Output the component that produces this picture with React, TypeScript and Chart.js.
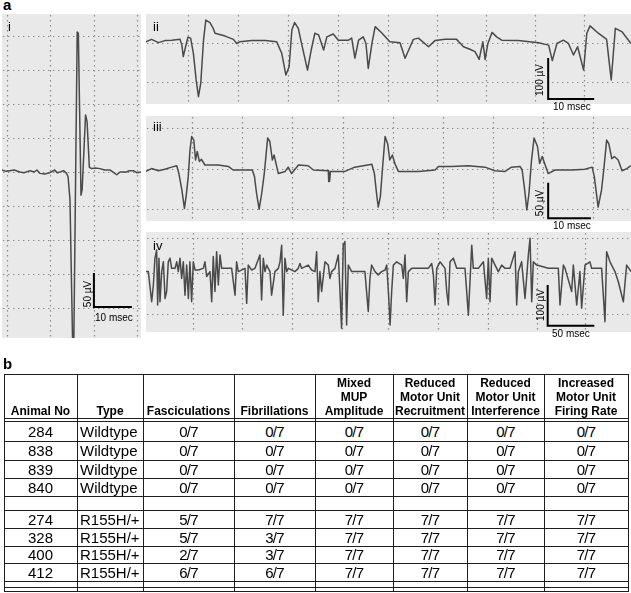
import React, { useEffect, useRef } from "react";
import { Chart, registerables } from "chart.js";

Chart.register(...registerables);

type Pt = [number, number];

const FONT = 'Arial, "Liberation Sans", Helvetica, sans-serif';
const PANEL_BG = "#e9e9e9";
const GRID_COLOR = "#8a8a8a";
const TRACE_COLOR = "#4a4a4a";
const LINE_COLOR = "#1e1e1e";

// ---------- Panel i : time (ms), amplitude (µV) ----------
const traceI: Pt[] = [
  [0, 3], [1.0, 1], [2.1, 2], [3.2, 3], [4.7, 0], [5.8, -1], [7.4, 2], [8.5, 0], [9.2, 3],
  [10.0, -2], [11.2, -3], [12.6, -1], [13.9, 3], [14.5, -1], [15.3, 0], [16.2, 2], [17.0, -2],
  [17.4, -7], [17.9, -41], [18.6, -254], [18.9, -254], [19.8, 206], [20.1, 204], [20.8, -34],
  [21.1, -26], [22.0, 84], [22.4, 74], [23.0, 7], [23.6, 5], [24.5, 6], [25.8, 5], [27.0, 3],
  [28.4, 3], [29.7, -2], [30.2, -4], [31.1, 0], [32.8, 0], [33.5, 2], [34.6, 2], [35.5, -1], [36.6, 0],
];
const rangeI_t: Pt = [0, 36.6];
const rangeI_v: Pt = [-244.1, 232.4];
const gridI_t = [1.3, 12.6, 24.2, 35.5];
const gridI_v = [200, 150, 100, 50, 0, -50, -100, -150, -200];
const barI: Pt[] = [[24.2, -148.5], [24.2, -198.5], [34.2, -198.5]];

// ---------- Panel ii ----------
const traceII: Pt[] = [
  [0, -2], [1.2, 4], [2.7, -4], [4.1, 1], [5.6, 2], [7.4, 4], [7.8, -10], [8.1, -38], [8.6, -14],
  [9.1, 9], [9.7, 7], [10.3, -30], [10.9, -95], [11.4, -136], [11.9, -103], [12.5, 2], [13.0, 51],
  [13.9, 45], [14.6, 31], [15.0, 19], [17.2, 12], [19.0, 4], [19.7, -6], [20.4, -2], [23.0, 1],
  [25.9, 1], [28.4, -2], [29.5, -30], [30.4, -83], [31.1, -63], [31.7, 27], [32.3, 45], [33.1, 31],
  [33.8, -6], [35.1, -71], [35.9, -22], [36.7, 19], [37.5, 15], [38.6, -22], [39.3, 10], [40.7, 17],
  [41.8, 2], [44.0, 2], [44.7, 7], [45.4, -42], [46.2, 2], [47.2, 10], [47.8, -6], [48.3, -67],
  [49.1, -6], [49.8, 35], [51.2, 20], [53.0, -2], [55.2, -4], [56.3, -42], [57.4, -14], [58.1, 4],
  [59.2, 7], [61.4, -14], [62.8, 1], [65.0, 4], [67.5, 4], [69.0, -14], [70.4, -20], [71.5, -26],
  [72.4, -45], [73.2, -2], [73.7, -45], [74.3, -6], [75.2, 21], [76.2, 10], [77.3, 2], [80.9, 1],
  [85.3, -4], [87.5, -10], [88.3, -48], [89.3, -6], [90.7, 2], [91.8, -6], [92.9, -34], [93.8, -14],
  [95.1, -71], [95.8, 19], [96.5, 37], [98.3, 19], [100.1, 4], [101.1, -95], [102.0, 31], [103.4, 23],
  [105.4, -6],
];
const rangeII_t: Pt = [0, 105.4];
const rangeII_v: Pt = [-153.7, 65.9];
const gridII_t = [9.1, 20.0, 30.9, 41.7, 52.6, 63.3, 73.9, 84.6, 95.2];
const gridII_v = [-5, -100];
const barII: Pt[] = [[87.4, -41.5], [87.4, -141.5], [97.4, -141.5]];

// ---------- Panel iii ----------
const traceIII: Pt[] = [
  [0, -2], [1.3, 2], [2.9, -1], [4.4, 1], [6.0, 4], [7.2, 6], [7.7, -5], [8.4, -28], [9.0, -54],
  [9.4, -37], [9.9, -9], [10.3, 28], [10.7, 47], [11.2, 42], [11.6, 14], [12.0, 26], [12.5, 12],
  [13.0, 15], [13.8, 7], [16.9, 7], [19.3, 5], [20.4, 0], [23.2, 0], [24.9, 0], [25.4, -9],
  [25.9, -33], [26.5, -55], [27.1, -33], [27.7, -5], [28.5, 45], [29.0, 40], [29.6, 14], [30.0, 21],
  [31.0, -5], [32.6, -2], [33.3, 4], [34.1, -5], [35.7, 7], [38.0, 6], [39.2, 0], [42.7, -1],
  [42.8, -16], [43.0, -16], [43.2, -2], [46.6, -2], [48.9, 4], [52.9, 8], [53.5, -5], [54.0, -33],
  [54.4, -52], [54.9, -37], [55.3, -5], [56.0, 47], [56.6, 37], [57.1, 14], [57.7, 21], [58.3, 9],
  [59.1, -2], [63.8, -2], [67.7, 0], [68.5, 5], [71.6, 5], [75.5, 6], [79.4, 4], [81.7, -1],
  [84.1, -2], [85.6, 4], [87.6, 5], [88.1, 0], [88.6, -23], [89.2, -56], [89.7, -33], [90.3, 14],
  [90.9, 45], [91.7, 33], [92.2, 9], [92.8, 19], [94.2, -5], [95.8, 0], [99.7, 0], [102.8, 1],
  [104.5, 4], [105.0, -9], [105.9, -52], [106.7, -28], [107.3, 5], [107.9, 42], [108.4, 37],
  [109.1, 16], [109.7, 19], [110.6, 14], [111.5, -1], [112.6, 2], [113.6, 6],
];
const rangeIII_t: Pt = [0, 113.6];
const rangeIII_v: Pt = [-71.6, 75.8];
const gridIII_t = [10.8, 22.5, 34.2, 46.1, 57.8, 69.6, 81.3, 93.0, 104.7];
const gridIII_v = [59, 1, -55];
const barIII: Pt[] = [[94.2, -17.8], [94.2, -67.8], [104.2, -67.8]];

// ---------- Panel iv ----------
const traceIV: Pt[] = [
  [0, 1], [2.5, 1], [6.1, -73], [7.9, -32], [9.6, 34], [11.4, 54], [12.5, -81], [13.9, 34], [15.0, -73],
  [16.8, 1], [18.6, 25], [20.4, -65], [22.1, -48], [23.9, 25], [25.7, 34], [27.5, 9], [31.1, 9],
  [32.9, 25], [34.6, 1], [36.4, 34], [38.2, -16], [40.0, 25], [41.8, -57], [43.6, 17], [45.4, -65],
  [47.1, 25], [48.9, -73], [50.7, 25], [52.5, 5], [56.1, 5], [61.4, 9], [63.2, 25], [65.0, -11],
  [68.6, 1], [70.4, -73], [72.1, 38], [73.9, -48], [75.7, 50], [77.5, -32], [79.3, 42], [81.1, 9],
  [91.8, 9], [95.4, -57], [97.1, 25], [98.9, 1], [106.1, 9], [107.9, -77], [109.6, 17], [113.2, 5],
  [116.8, 9], [122.1, 42], [123.9, -69], [125.7, 34], [127.5, 1], [129.3, 17], [132.9, 1], [134.6, -57],
  [138.2, 1], [141.8, 9], [143.6, 25], [145.4, 66], [147.1, -106], [148.9, 34], [150.7, 1], [152.5, 9],
  [159.6, 1], [163.2, 9], [165.0, 21], [166.8, 9], [173.9, 17], [177.5, 5], [181.1, 1], [182.9, 50],
  [184.6, -73], [186.4, 1], [188.2, -48], [191.8, 25], [195.4, 17], [197.1, -16], [198.9, 1],
  [202.5, 9], [206.1, 42], [207.9, -48], [209.6, -138], [211.4, 66], [213.2, 75], [215.0, -130],
  [216.8, 17], [220.4, 1], [234.6, 1], [238.2, -97], [240.0, -16], [241.8, 17], [245.4, 1],
  [248.9, -7], [252.5, 1], [256.2, 5], [258.0, 17], [259.8, -48], [261.6, -130], [263.3, -48],
  [265.1, 17], [268.7, 25], [274.1, 17], [275.8, -16], [277.6, 42], [279.4, -73], [281.2, 1],
  [284.8, 9], [295.5, 9], [302.6, 9], [306.2, 21], [308.0, -7], [309.8, -81], [311.6, 9], [315.1, 25],
  [320.5, 9], [322.3, -48], [324.1, -81], [325.8, 25], [329.4, 34], [333.0, 9], [341.9, 9],
  [345.5, -106], [349.1, 66], [350.8, 9], [356.2, 9], [361.6, 25], [365.1, -65], [366.9, 34],
  [368.7, -73], [370.5, 34], [374.1, 17], [377.6, 1], [381.2, 17], [384.8, 9], [390.1, 9], [395.5, 50],
  [397.3, -81], [399.1, 1], [402.6, 25], [406.2, -65], [409.8, 42], [411.6, 83], [413.4, -73],
  [415.1, 25], [418.7, 17], [431.2, 9], [441.9, 9], [443.7, -81], [447.3, 17], [449.1, 9],
  [456.2, -48], [458.0, 17], [461.6, -81], [465.1, 1], [466.9, -89], [470.5, 17], [475.8, 25],
  [477.6, 9], [488.3, 9], [491.9, -122], [493.7, 50], [497.3, 25], [502.6, 1], [506.2, -24],
  [511.6, -73], [515.1, 17], [519.8, 1],
];
const rangeIV_t: Pt = [0, 519.8];
const rangeIV_v: Pt = [-147.4, 98.3];
const gridIV_t = [50.4, 102.9, 156.5, 210.1, 259.4, 313.0, 366.6, 419.1, 470.5];
const gridIV_v = [83.5, -2.5, -103];
const barIV: Pt[] = [[430.5, -32], [430.5, -132], [480.5, -132]];

// ---------- Table b ----------
const tableHeaders: string[][] = [
  ["Animal No"], ["Type"], ["Fasciculations"], ["Fibrillations"],
  ["Mixed", "MUP", "Amplitude"], ["Reduced", "Motor Unit", "Recruitment"],
  ["Reduced", "Motor Unit", "Interference"], ["Increased", "Motor Unit", "Firing Rate"],
];
const animalNo = ["284", "838", "839", "840", "", "274", "328", "400", "412"];
const animalType = ["Wildtype", "Wildtype", "Wildtype", "Wildtype", "", "R155H/+", "R155H/+", "R155H/+", "R155H/+"];
const fasciculations = ["0/7", "0/7", "0/7", "0/7", "", "5/7", "5/7", "2/7", "6/7"];
const fibrillations = ["0/7", "0/7", "0/7", "0/7", "", "7/7", "3/7", "3/7", "6/7"];
const mixedMup = ["0/7", "0/7", "0/7", "0/7", "", "7/7", "7/7", "7/7", "7/7"];
const reducedRecruitment = ["0/7", "0/7", "0/7", "0/7", "", "7/7", "7/7", "7/7", "7/7"];
const reducedInterference = ["0/7", "0/7", "0/7", "0/7", "", "7/7", "7/7", "7/7", "7/7"];
const increasedFiring = ["0/7", "0/7", "0/7", "0/7", "", "7/7", "7/7", "7/7", "7/7"];

// layout (pixels)
const colEdges = [4, 77, 143, 234, 315, 393, 467, 544, 628];
const headerTop = 374;
const headerBottom = 418;
const rowEdges = [421, 441, 460, 478, 496, 510, 528, 546, 563, 581];
const tableBottomLines = [587, 591];

interface PanelProps {
  left: number; top: number; width: number; height: number;
  trace: Pt[]; tRange: Pt; vRange: Pt; gridT: number[]; gridV: number[]; bar: Pt[];
}

function ScopePanel(p: PanelProps) {
  const ref = useRef<HTMLCanvasElement>(null);
  useEffect(() => {
    const canvas = ref.current;
    if (!canvas) return;
    const gridPlugin = {
      id: "scopeGrid",
      beforeDatasetsDraw(chart: any) {
        const { ctx, chartArea: a, scales } = chart;
        ctx.save();
        ctx.fillStyle = PANEL_BG;
        ctx.fillRect(a.left, a.top, a.right - a.left, a.bottom - a.top);
        ctx.strokeStyle = GRID_COLOR;
        ctx.lineWidth = 1.2;
        ctx.setLineDash([1.4, 3.6]);
        p.gridT.forEach((t) => {
          const x = Math.round(scales.x.getPixelForValue(t)) + 0.5;
          ctx.beginPath();
          ctx.moveTo(x, a.top + 1);
          ctx.lineTo(x, a.bottom);
          ctx.stroke();
        });
        p.gridV.forEach((v) => {
          const y = Math.round(scales.y.getPixelForValue(v)) + 0.5;
          ctx.beginPath();
          ctx.moveTo(a.left + 1, y);
          ctx.lineTo(a.right, y);
          ctx.stroke();
        });
        ctx.restore();
      },
    };
    const chart = new Chart(canvas, {
      type: "line",
      data: {
        datasets: [
          {
            data: p.bar.map(([x, y]) => ({ x, y })),
            borderColor: "#000",
            borderWidth: 2,
            pointRadius: 0,
            borderJoinStyle: "miter",
            borderCapStyle: "butt",
          } as any,
          {
            data: p.trace.map(([x, y]) => ({ x, y })),
            borderColor: TRACE_COLOR,
            borderWidth: 1.5,
            pointRadius: 0,
            tension: 0,
            borderJoinStyle: "round",
          } as any,
        ],
      },
      options: {
        responsive: false,
        animation: false,
        devicePixelRatio: 1,
        events: [],
        layout: { padding: 0 },
        plugins: { legend: { display: false }, tooltip: { enabled: false } },
        scales: {
          x: { type: "linear", min: p.tRange[0], max: p.tRange[1], display: false },
          y: { type: "linear", min: p.vRange[0], max: p.vRange[1], display: false },
        },
      } as any,
      plugins: [gridPlugin],
    });
    return () => chart.destroy();
  }, []);
  return (
    <canvas
      ref={ref}
      width={p.width}
      height={p.height}
      style={{ position: "absolute", left: p.left, top: p.top, width: p.width, height: p.height }}
    />
  );
}

function Txt(props: { x: number; base: number; size: number; bold?: boolean; children: React.ReactNode }) {
  return (
    <div
      style={{
        position: "absolute", left: props.x, top: props.base - 0.85 * props.size,
        fontSize: props.size, lineHeight: props.size + "px", fontFamily: FONT,
        fontWeight: props.bold ? 700 : 400, whiteSpace: "nowrap", color: "#000",
      }}
    >
      {props.children}
    </div>
  );
}

function VTxt(props: { cx: number; cy: number; size: number; children: React.ReactNode }) {
  return (
    <div
      style={{
        position: "absolute", left: props.cx, top: props.cy,
        transform: "translate(-50%, -50%) rotate(-90deg)",
        fontSize: props.size, lineHeight: props.size + "px", fontFamily: FONT,
        whiteSpace: "nowrap", color: "#000",
      }}
    >
      {props.children}
    </div>
  );
}

function Table() {
  const cols = [animalNo, animalType, fasciculations, fibrillations, mixedMup, reducedRecruitment, reducedInterference, increasedFiring];
  const hLines = [headerTop, headerBottom, ...rowEdges, ...tableBottomLines];
  const left = colEdges[0];
  const right = colEdges[colEdges.length - 1];
  const bottom = tableBottomLines[tableBottomLines.length - 1];
  const els: React.ReactNode[] = [];
  hLines.forEach((y, i) =>
    els.push(<div key={"h" + i} style={{ position: "absolute", left, top: y, width: right - left + 1, height: 1, background: LINE_COLOR }} />)
  );
  colEdges.forEach((x, i) =>
    els.push(<div key={"v" + i} style={{ position: "absolute", left: x, top: headerTop, width: 1, height: bottom - headerTop + 1, background: LINE_COLOR }} />)
  );
  tableHeaders.forEach((lines, c) =>
    els.push(
      <div
        key={"hd" + c}
        style={{
          position: "absolute", left: colEdges[c], top: headerTop, width: colEdges[c + 1] - colEdges[c],
          height: headerBottom - headerTop, display: "flex", flexDirection: "column", justifyContent: "flex-end",
          alignItems: "center", fontFamily: FONT, fontWeight: 700, fontSize: 12, lineHeight: "14px", color: "#000",
        }}
      >
        {lines.map((l, k) => <div key={k} style={{ whiteSpace: "nowrap" }}>{l}</div>)}
      </div>
    )
  );
  cols.forEach((vals, c) =>
    vals.forEach((v, r) =>
      els.push(
        <div
          key={"c" + c + "_" + r}
          style={{
            position: "absolute", left: colEdges[c] + (c === 1 ? 3 : 0), top: rowEdges[r],
            width: colEdges[c + 1] - colEdges[c] - (c === 1 ? 3 : 0), height: rowEdges[r + 1] - rowEdges[r],
            display: "flex", alignItems: "center", justifyContent: c === 1 ? "flex-start" : "center",
            fontFamily: FONT, fontSize: 15, color: "#000", whiteSpace: "nowrap",
            letterSpacing: c >= 2 ? "-0.8px" : "normal",
          }}
        >
          {v}
        </div>
      )
    )
  );
  return <>{els}</>;
}

export default function App() {
  return (
    <div style={{ position: "absolute", left: 0, top: 0, width: 631, height: 593, background: "#fff", overflow: "hidden" }}>
      <Txt x={3} base={10} size={15} bold>a</Txt>
      <ScopePanel left={2} top={14} width={139} height={324} trace={traceI} tRange={rangeI_t} vRange={rangeI_v} gridT={gridI_t} gridV={gridI_v} bar={barI} />
      <ScopePanel left={146} top={14} width={485} height={90} trace={traceII} tRange={rangeII_t} vRange={rangeII_v} gridT={gridII_t} gridV={gridII_v} bar={barII} />
      <ScopePanel left={146} top={116} width={485} height={105} trace={traceIII} tRange={rangeIII_t} vRange={rangeIII_v} gridT={gridIII_t} gridV={gridIII_v} bar={barIII} />
      <ScopePanel left={146} top={232} width={485} height={100} trace={traceIV} tRange={rangeIV_t} vRange={rangeIV_v} gridT={gridIV_t} gridV={gridIV_v} bar={barIV} />

      <Txt x={8} base={31} size={13}>i</Txt>
      <Txt x={153} base={31} size={13}>ii</Txt>
      <Txt x={153} base={131} size={13}>iii</Txt>
      <Txt x={153} base={250} size={13}>iv</Txt>

      <VTxt cx={88} cy={294} size={10}>50 µV</VTxt>
      <Txt x={95} base={321} size={10}>10 msec</Txt>
      <VTxt cx={540} cy={80} size={10}>100 µV</VTxt>
      <Txt x={553} base={110} size={10}>10 msec</Txt>
      <VTxt cx={540} cy={203} size={10}>50 µV</VTxt>
      <Txt x={553} base={229} size={10}>10 msec</Txt>
      <VTxt cx={541} cy={305} size={10}>100 µV</VTxt>
      <Txt x={552} base={337} size={10}>50 msec</Txt>

      <Txt x={3} base={369} size={15} bold>b</Txt>
      <Table />
    </div>
  );
}
